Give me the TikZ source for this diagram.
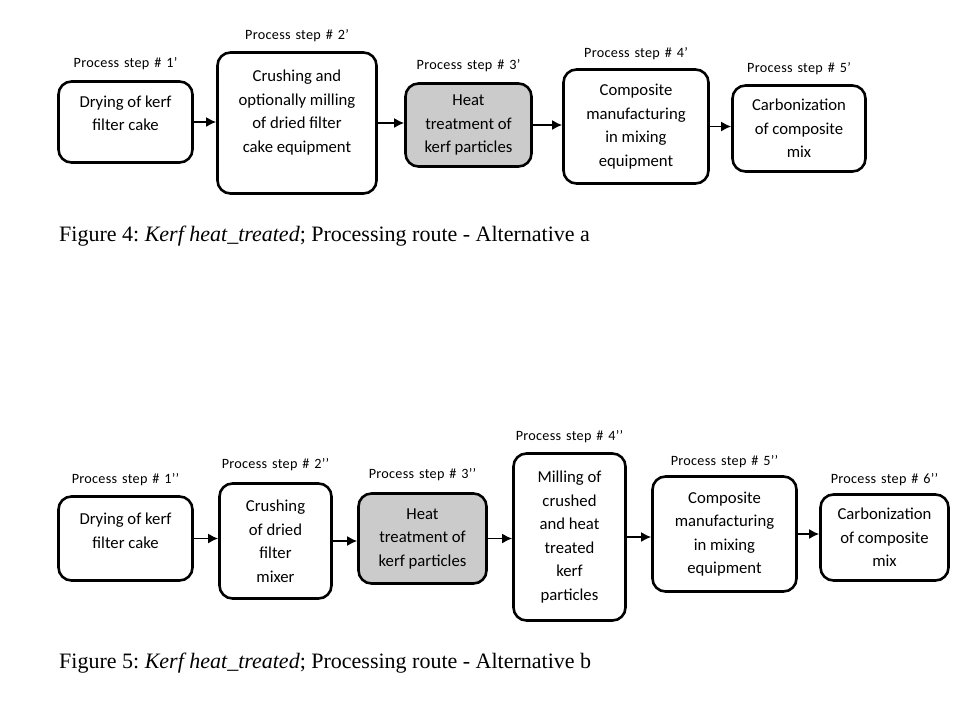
\documentclass[tikz,border=0pt]{standalone}
\usepackage{fontspec}
\setmainfont{Carlito}
\newfontfamily\labelfont[LetterSpace=2,WordSpace=1.4]{Carlito}
\newfontfamily\capfont{Liberation Serif}
\usetikzlibrary{positioning,arrows.meta}

\definecolor{heatgray}{HTML}{CBCBCB}
\newcommand\padbelow[1]{\rule[-#1]{0pt}{#1}}

\tikzset{
  stepbox/.style={draw, line width=2.6pt, rounded corners=13pt, align=center,
    inner sep=0pt, font=\fontsize{16.7}{23.5}\selectfont},
  steplabel/.style={inner sep=0pt, font=\labelfont\fontsize{14.2}{16}\selectfont},
  flow/.style={-{Latex[length=10pt,width=10pt]}, line width=1.8pt},
  figcap/.style={anchor=west, inner sep=0pt, font=\capfont\fontsize{22}{24}\selectfont\frenchspacing}
}

\begin{document}
\begin{tikzpicture}[x=1pt, y=-1pt]
\useasboundingbox (0,0) rectangle (975,713);
% Alternative a
\draw (125.5,122) node[stepbox, minimum width=134, minimum height=81](b1){Drying of kerf\\ filter cake\padbelow{18pt}}
    (297,123) node[stepbox, minimum width=159, minimum height=141](b2){Crushing and\\ optionally milling\\ of dried filter\\ cake equipment\padbelow{24pt}}
    (468.5,125) node[stepbox, fill=heatgray, minimum width=126, minimum height=83](b3){Heat\\ treatment of\\ kerf particles}
    (636,126.5) node[stepbox, minimum width=145, minimum height=114](b4){Composite\\ manufacturing\\ in mixing\\ equipment}
    (799,128.5) node[stepbox, minimum width=133, minimum height=86](b5){Carbonization\\ of composite\\ mix};
\node[steplabel, above=10pt of b1] (lb1) {Process step \# 1’};
\node[steplabel, above=9pt of b2] (lb2) {Process step \# 2’};
\node[steplabel, above=10pt of b3] (lb3) {Process step \# 3’};
\node[steplabel, above=8pt of b4] (lb4) {Process step \# 4’};
\node[steplabel, above=9pt of b5] (lb5) {Process step \# 5’};
\draw[flow] (b1.east) -- (b1.east -| b2.west);
\draw[flow] (b2.east) -- (b2.east -| b3.west);
\draw[flow] (b3.east) -- (b3.east -| b4.west);
\draw[flow] (b4.east) -- (b4.east -| b5.west);
\node[figcap] (capa) at (59,236.5) {Figure 4: \textit{Kerf heat\_treated}; Processing route - Alternative a};

% Alternative b
\draw (125.5,538.5) node[stepbox, minimum width=134, minimum height=84](c1){Drying of kerf\\ filter cake\padbelow{16pt}}
    (275.5,541) node[stepbox, minimum width=112, minimum height=115](c2){Crushing\\ of dried\\ filter\\ mixer}
    (422.5,538.5) node[stepbox, fill=heatgray, minimum width=128, minimum height=90](c3){Heat\\ treatment of\\ kerf particles}
    (569.5,537) node[stepbox, minimum width=112, minimum height=167](c4){Milling of\\ crushed\\ and heat\\ treated\\ kerf\\ particles}
    (724.5,534) node[stepbox, minimum width=144, minimum height=115](c5){Composite\\ manufacturing\\ in mixing\\ equipment}
    (884.5,537.5) node[stepbox, minimum width=128, minimum height=86](c6){Carbonization\\ of composite\\ mix};
\node[steplabel, above=9pt of c1] (lc1) {Process step \# 1’’};
\node[steplabel, above=11pt of c2] (lc2) {Process step \# 2’’};
\node[steplabel, above=11pt of c3] (lc3) {Process step \# 3’’};
\node[steplabel, above=9pt of c4] (lc4) {Process step \# 4’’};
\node[steplabel, above=7pt of c5] (lc5) {Process step \# 5’’};
\node[steplabel, above=7pt of c6] (lc6) {Process step \# 6’’};
\draw[flow] (c1.east) -- (c1.east -| c2.west);
\draw[flow] (c2.east) -- (c2.east -| c3.west);
\draw[flow] (c3.east) -- (c3.east -| c4.west);
\draw[flow] (c4.east) -- (c4.east -| c5.west);
\draw[flow] (c5.east) -- (c5.east -| c6.west);
\node[figcap] (capb) at (59,663.5) {Figure 5: \textit{Kerf heat\_treated}; Processing route - Alternative b};
\end{tikzpicture}
\end{document}
